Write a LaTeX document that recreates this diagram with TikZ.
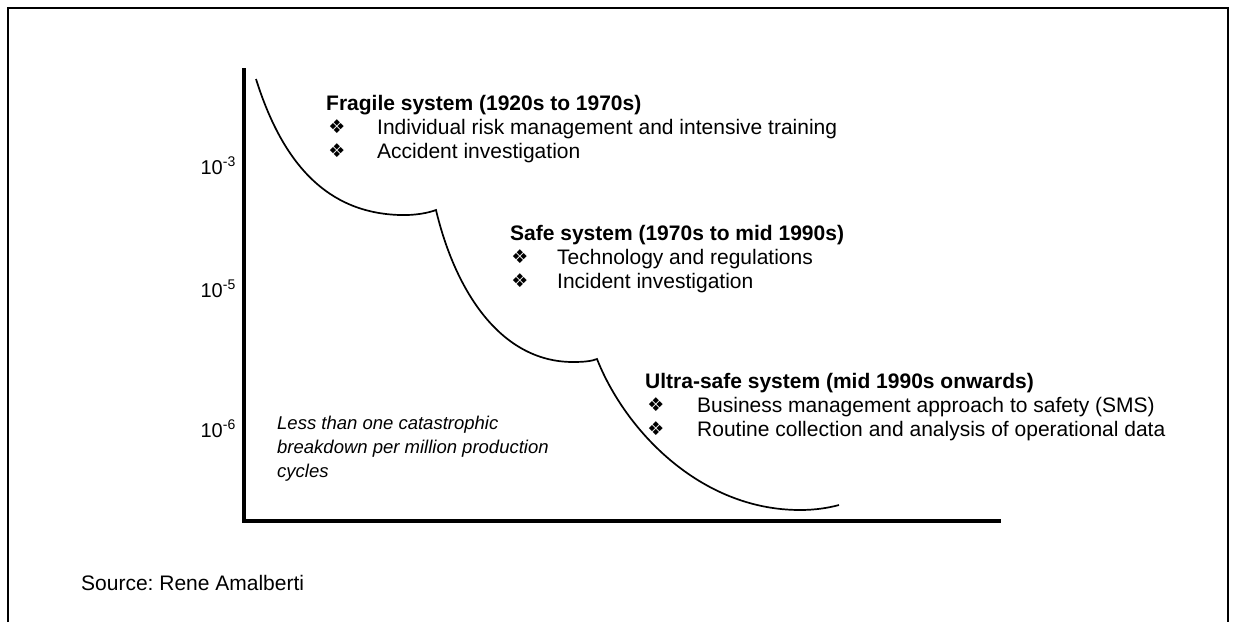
\documentclass[tikz,border=0pt]{standalone}
\usepackage{fontspec}
\setmainfont{Liberation Sans}
\newfontfamily\symfont{DejaVu Sans}
\frenchspacing
\begin{document}
\begin{tikzpicture}[x=1pt,y=-1pt,
  txt/.style={anchor=base west, inner sep=0pt, font=\fontsize{21}{24}\selectfont},
  ttl/.style={anchor=base west, inner sep=0pt, font=\fontsize{21}{24}\selectfont\bfseries},
  bul/.style={anchor=center, inner sep=0pt, font=\symfont\fontsize{19}{20}\selectfont},
  ylab/.style={anchor=base east, inner sep=0pt, font=\fontsize{20}{24}\selectfont},
  note/.style={anchor=base west, inner sep=0pt, align=left, font=\fontsize{18.5}{24}\selectfont\itshape},
  axisline/.style={line width=4pt, line join=miter},
  curveline/.style={line width=1.7pt},
  frameline/.style={line width=1.7pt}]
\useasboundingbox (0,0) rectangle (1234,622);
% frame (open at the bottom)
\coordinate (fbl) at (8,622);
\coordinate (ftl) at (8,8);
\coordinate (ftr) at (1228,8);
\coordinate (fbr) at (1228,622);
\draw[frameline] (fbl) -- (ftl) -- (ftr) -- (fbr);
% axes
\coordinate (ytop) at (244,68);
\coordinate (orig) at (244,521);
\coordinate (xend) at (1001,521);
\draw[axisline] (ytop) -- (orig) -- (xend);
% y labels
\node[ylab] (y3) at (236,174) {10\textsuperscript{-3}};
\node[ylab] (y5) at (236,297) {10\textsuperscript{-5}};
\node[ylab] (y6) at (236,437) {10\textsuperscript{-6}};
% curve
\draw[curveline] (256,79) .. controls (283,165) and (328,213) .. (400,215)
  .. controls (415,215.5) and (428,213) .. (436,210)
  .. controls (455,290) and (500,362) .. (573,362)
  .. controls (585,362) and (592,361) .. (597,359)
  .. controls (625,430) and (700,510) .. (800,510)
  .. controls (815,510) and (828,508) .. (839,505);
% block 1
\node[ttl] (t1) at (326,110) {Fragile system (1920s to 1970s)};
\node[bul] (b11) at (337,127) {❖};
\node[txt] (l11) at (377,134) {Individual risk management and intensive training};
\node[bul] (b12) at (337,151) {❖};
\node[txt] (l12) at (377,158) {Accident investigation};
% block 2
\node[ttl] (t2) at (510,240) {Safe system (1970s to mid 1990s)};
\node[bul] (b21) at (520,257) {❖};
\node[txt] (l21) at (557,264) {Technology and regulations};
\node[bul] (b22) at (520,281) {❖};
\node[txt] (l22) at (557,288) {Incident investigation};
% block 3
\node[ttl] (t3) at (645,388) {Ultra-safe system (mid 1990s onwards)};
\node[bul] (b31) at (656,405) {❖};
\node[txt] (l31) at (697,412) {Business management approach to safety (SMS)};
\node[bul] (b32) at (656,429) {❖};
\node[txt] (l32) at (697,436) {Routine collection and analysis of operational data};
% note
\node[note] (n1) at (277,429) {Less than one catastrophic};
\node[note] (n2) at (277,453) {breakdown per million production};
\node[note] (n3) at (277,477) {cycles};
% source
\node[txt] (src) at (81,590) {Source: Rene Amalberti};
\end{tikzpicture}
\end{document}
